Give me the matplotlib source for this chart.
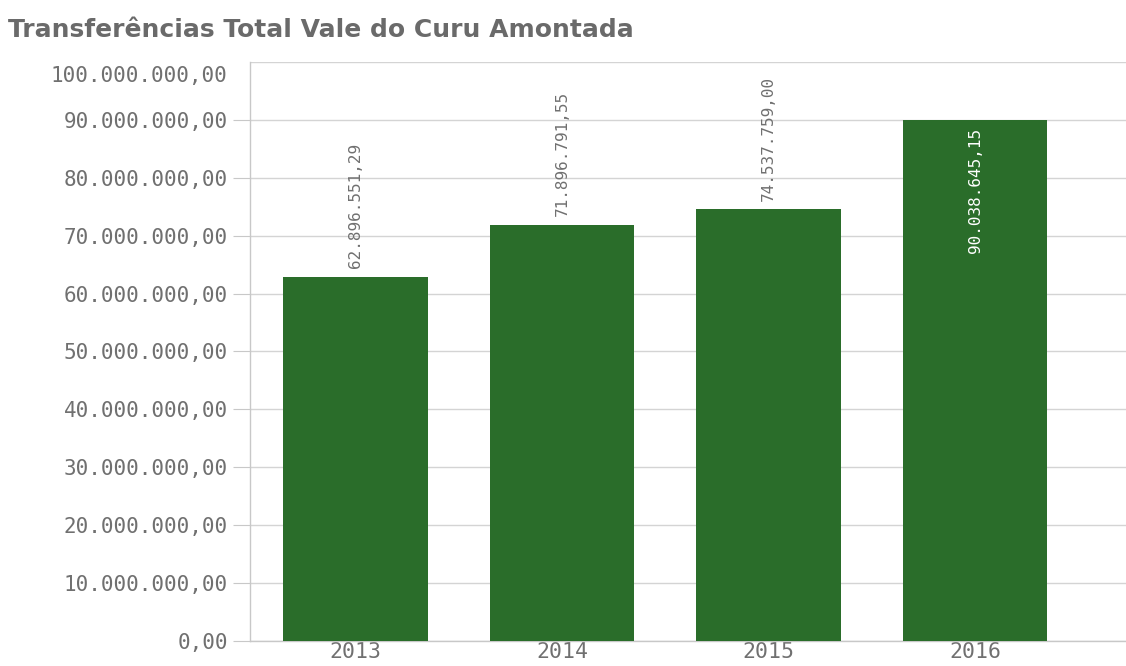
import matplotlib
matplotlib.use("Agg")
import matplotlib.pyplot as plt
import matplotlib.transforms as mtransforms
from matplotlib.ticker import FuncFormatter

years = ["2013", "2014", "2015", "2016"]
values = [62896551.29, 71896791.55, 74537759.00, 90038645.15]
value_labels = ["62.896.551,29", "71.896.791,55", "74.537.759,00", "90.038.645,15"]

bar_color = "#2a6d2a"
text_color = "#707070"
grid_color = "#d4d4d4"


def br_format(v, pos=None):
    s = "{:,.2f}".format(v)
    return s.replace(",", "X").replace(".", ",").replace("X", ".")


fig = plt.figure(figsize=(11.26, 6.66), dpi=100)
ax = fig.add_axes([0.222, 0.0375, 0.778, 0.8695])

x = range(len(years))
bars = ax.bar(x, values, width=0.7, color=bar_color, zorder=3)

ax.set_ylim(0, 100000000)
ax.set_xlim(-0.51, 3.73)
ax.set_yticks(range(0, 100000001, 10000000))
ax.yaxis.set_major_formatter(FuncFormatter(br_format))
ax.set_xticks(list(x))
ax.set_xticklabels(years)

ax.yaxis.grid(True, color=grid_color, linewidth=1, zorder=0)
for side in ["top", "right"]:
    ax.spines[side].set_visible(False)
for side in ["left", "bottom"]:
    ax.spines[side].set_color("#c8c8c8")
    ax.spines[side].set_linewidth(1)

ax.tick_params(axis="y", length=12, color="#c8c8c8", labelcolor=text_color,
               labelsize=15, pad=4)
ax.tick_params(axis="x", length=0, labelcolor=text_color, labelsize=15.5, pad=1)
for lab in ax.get_yticklabels() + ax.get_xticklabels():
    lab.set_family("DejaVu Sans Mono")

# top label sits a bit below its gridline, and that tick has no mark
top_lab = ax.get_yticklabels()[-1]
top_lab.set_transform(top_lab.get_transform() +
                      mtransforms.ScaledTranslation(0, -12 / 100, fig.dpi_scale_trans))
ax.yaxis.get_major_ticks()[-1].tick1line.set_visible(False)

# value labels: above the bar, or inside when near the top
for i, (v, lab) in enumerate(zip(values, value_labels)):
    if v > 85000000:
        ax.text(i, v - 1500000, lab, rotation=90, ha="center", va="top",
                color="white", fontsize=11.5, family="DejaVu Sans Mono", zorder=4)
    else:
        ax.text(i, v + 1500000, lab, rotation=90, ha="center", va="bottom",
                color=text_color, fontsize=11.5, family="DejaVu Sans Mono", zorder=4)

fig.text(0.007, 0.955, "Transferências Total Vale do Curu Amontada", ha="left",
         va="center", fontsize=18, fontweight="bold", color="#6a6a6a")

plt.savefig("out.png", dpi=100)
